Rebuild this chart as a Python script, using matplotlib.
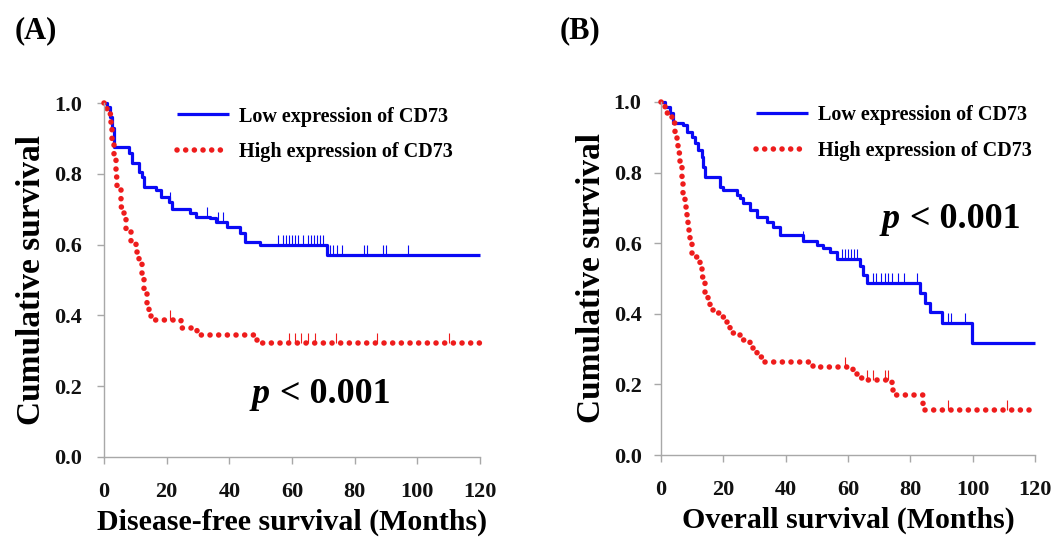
import matplotlib
matplotlib.use("Agg")
import matplotlib.pyplot as plt
import numpy as np

plt.rcParams['font.family'] = ['Liberation Serif', 'DejaVu Serif']
plt.rcParams['font.weight'] = 'bold'

# (A) disease-free survival
dfs_low_t = [0, 1.0, 2.0, 2.6, 3.2, 8, 9, 11.2, 12.2, 12.8, 16.7, 18.3, 20.9, 21.8,
             27.3, 29.5, 33.7, 35.9, 39.1, 43.3, 44.9, 49.7, 71.2]
dfs_low_s = [1.0, 0.99, 0.96, 0.93, 0.876, 0.86, 0.83, 0.805, 0.79, 0.763, 0.754, 0.735,
             0.72, 0.70, 0.69, 0.678, 0.675, 0.664, 0.65, 0.633, 0.607, 0.599, 0.571]
dfs_low_cens = [21, 33, 36.5, 38, 55.5, 57, 58, 59, 60, 61, 62, 63.5, 65, 66, 67, 68, 69, 70,
                72, 73, 74.5, 76, 83, 84, 89, 90, 97]

dfs_high_t = [0, 1, 2.2, 2.6, 3.2, 3.9, 4.2, 5.5, 6.4, 7.1, 8.7, 10.3, 11.2, 12.2, 12.8,
              13.8, 14.4, 15.1, 24.7, 29.8, 48.7]
dfs_high_s = [1.0, 0.97, 0.93, 0.895, 0.847, 0.79, 0.754, 0.706, 0.678, 0.641, 0.605, 0.58,
              0.55, 0.51, 0.472, 0.435, 0.41, 0.387, 0.364, 0.345, 0.322]
dfs_high_cens = [21, 59, 61, 63, 65, 67.5, 74, 87, 110]

# (B) overall survival
os_low_t = [0, 1.3, 2.9, 3.8, 7.1, 8.3, 9.9, 10.9, 11.9, 13.2, 13.5, 14.1, 18.9, 19.9,
            24.4, 25.3, 26.3, 28.6, 30.8, 34, 35.9, 38.2, 45.6, 50, 52, 54.2, 56.5, 63.8,
            64.8, 66, 83, 84.7, 86.3, 90.1, 99.8]
os_low_s = [1.0, 0.986, 0.969, 0.94, 0.935, 0.915, 0.90, 0.884, 0.864, 0.844, 0.816, 0.788,
            0.76, 0.75, 0.737, 0.728, 0.714, 0.694, 0.674, 0.66, 0.646, 0.623, 0.605, 0.595,
            0.585, 0.575, 0.556, 0.535, 0.51, 0.487, 0.459, 0.43, 0.405, 0.374, 0.317]
os_low_cens = [45.6, 58, 59, 60, 61, 62, 63, 68, 69, 70.5, 72, 73, 74, 76, 78, 82, 92, 93, 97.5]

os_high_t = [0, 1.3, 3.5, 4.5, 5.1, 5.5, 6.1, 6.7, 7.1, 7.7, 8.3, 8.7, 9.3, 9.9, 12.5,
             13.2, 13.5, 14.1, 15.1, 15.7, 18, 19.9, 21.2, 22.1, 25.3, 28.6, 29.5, 30.8,
             32.7, 47.8, 48.8, 61.6, 62.9, 64.8, 74.1, 74.5, 84.1]
os_high_s = [1.0, 0.969, 0.94, 0.912, 0.884, 0.855, 0.816, 0.779, 0.742, 0.703, 0.666, 0.637,
             0.609, 0.561, 0.533, 0.505, 0.487, 0.459, 0.43, 0.411, 0.402, 0.391, 0.374, 0.346,
             0.326, 0.306, 0.292, 0.278, 0.263, 0.255, 0.249, 0.241, 0.218, 0.212, 0.184,
             0.17, 0.127]
os_high_cens = [59, 66, 68, 72, 73, 92, 111]

x_ticks = [0, 20, 40, 60, 80, 100, 120]
y_ticks = [0.0, 0.2, 0.4, 0.6, 0.8, 1.0]
labels = ['Low expression of CD73', 'High expression of CD73']

BLUE = '#0a0af5'
RED = '#ee1c1c'
RED_DOTS = (0, (0.01, 1.55))


def km(ax, t, s, cens, color, ls, lw):
    t = list(t) + [120]
    s = list(s) + [s[-1]]
    line, = ax.step(t, s, where='post', color=color, linestyle=ls, lw=lw,
                    dash_capstyle='round', solid_capstyle='butt', clip_on=False)
    idx = np.searchsorted(t, cens, side='right') - 1
    cy = np.array(s)[idx]
    ax.plot(cens, cy, linestyle='none', marker=2, ms=7, mew=0.8, color=color)
    return line


fig = plt.figure(figsize=(10.56, 5.45), dpi=100)
axA = fig.add_axes([0.0985, 0.1615, 0.356, 0.6495])
axB = fig.add_axes([0.626, 0.165, 0.354, 0.648])

# axis, x label, p-value position (data), legend anchor (axes), y tick pad
panels = [
    (axA, dfs_low_t, dfs_low_s, dfs_low_cens, dfs_high_t, dfs_high_s, dfs_high_cens,
     'Disease-free survival (Months)', (53, 0.153), (0.195, 0.99), 11),
    (axB, os_low_t, os_low_s, os_low_cens, os_high_t, os_high_s, os_high_cens,
     'Overall survival (Months)', (76.7, 0.643), (0.255, 0.99), 9),
]

for ax, lt, ls_, lc, ht, hs, hc, xlab, ppos, legpos, ypad in panels:
    h1 = km(ax, lt, ls_, lc, BLUE, '-', 2.3)
    h2 = km(ax, ht, hs, hc, RED, RED_DOTS, 4.0)
    ax.set_xlim(0, 120)
    ax.set_ylim(0, 1.0)
    ax.set_xticks(x_ticks)
    ax.set_yticks(y_ticks)
    ax.set_yticklabels(['%.1f' % v for v in y_ticks])
    for sp in ['top', 'right']:
        ax.spines[sp].set_visible(False)
    for sp in ['left', 'bottom']:
        ax.spines[sp].set_color('#a8a8a8')
        ax.spines[sp].set_linewidth(1.0)
    ax.tick_params(colors='#a8a8a8', length=5, width=1, labelsize=16, labelcolor='#111111')
    ax.tick_params(axis='y', pad=ypad)
    ax.tick_params(axis='x', pad=13)
    ax.set_xlabel(xlab, fontsize=21.5, fontweight='bold', labelpad=5)
    ax.set_ylabel('Cumulative survival', fontsize=24, fontweight='bold', labelpad=5)
    ax.text(ppos[0], ppos[1], 'p', fontsize=26, fontweight='bold', style='italic',
            ha='right', va='baseline')
    ax.text(ppos[0] + 0.3, ppos[1], ' < 0.001', fontsize=26, fontweight='bold',
            ha='left', va='baseline')
    ax.legend([h1, h2], labels, loc='upper left', bbox_to_anchor=legpos, frameon=False,
              fontsize=14.5, handlelength=2.55, handletextpad=0.5, labelspacing=0.78,
              borderaxespad=0, borderpad=0)

fig.text(0.034, 0.943, '(A)', fontsize=22, fontweight='bold', ha='center', va='center')
fig.text(0.549, 0.943, '(B)', fontsize=22, fontweight='bold', ha='center', va='center')

fig.savefig('out.png', dpi=100)
